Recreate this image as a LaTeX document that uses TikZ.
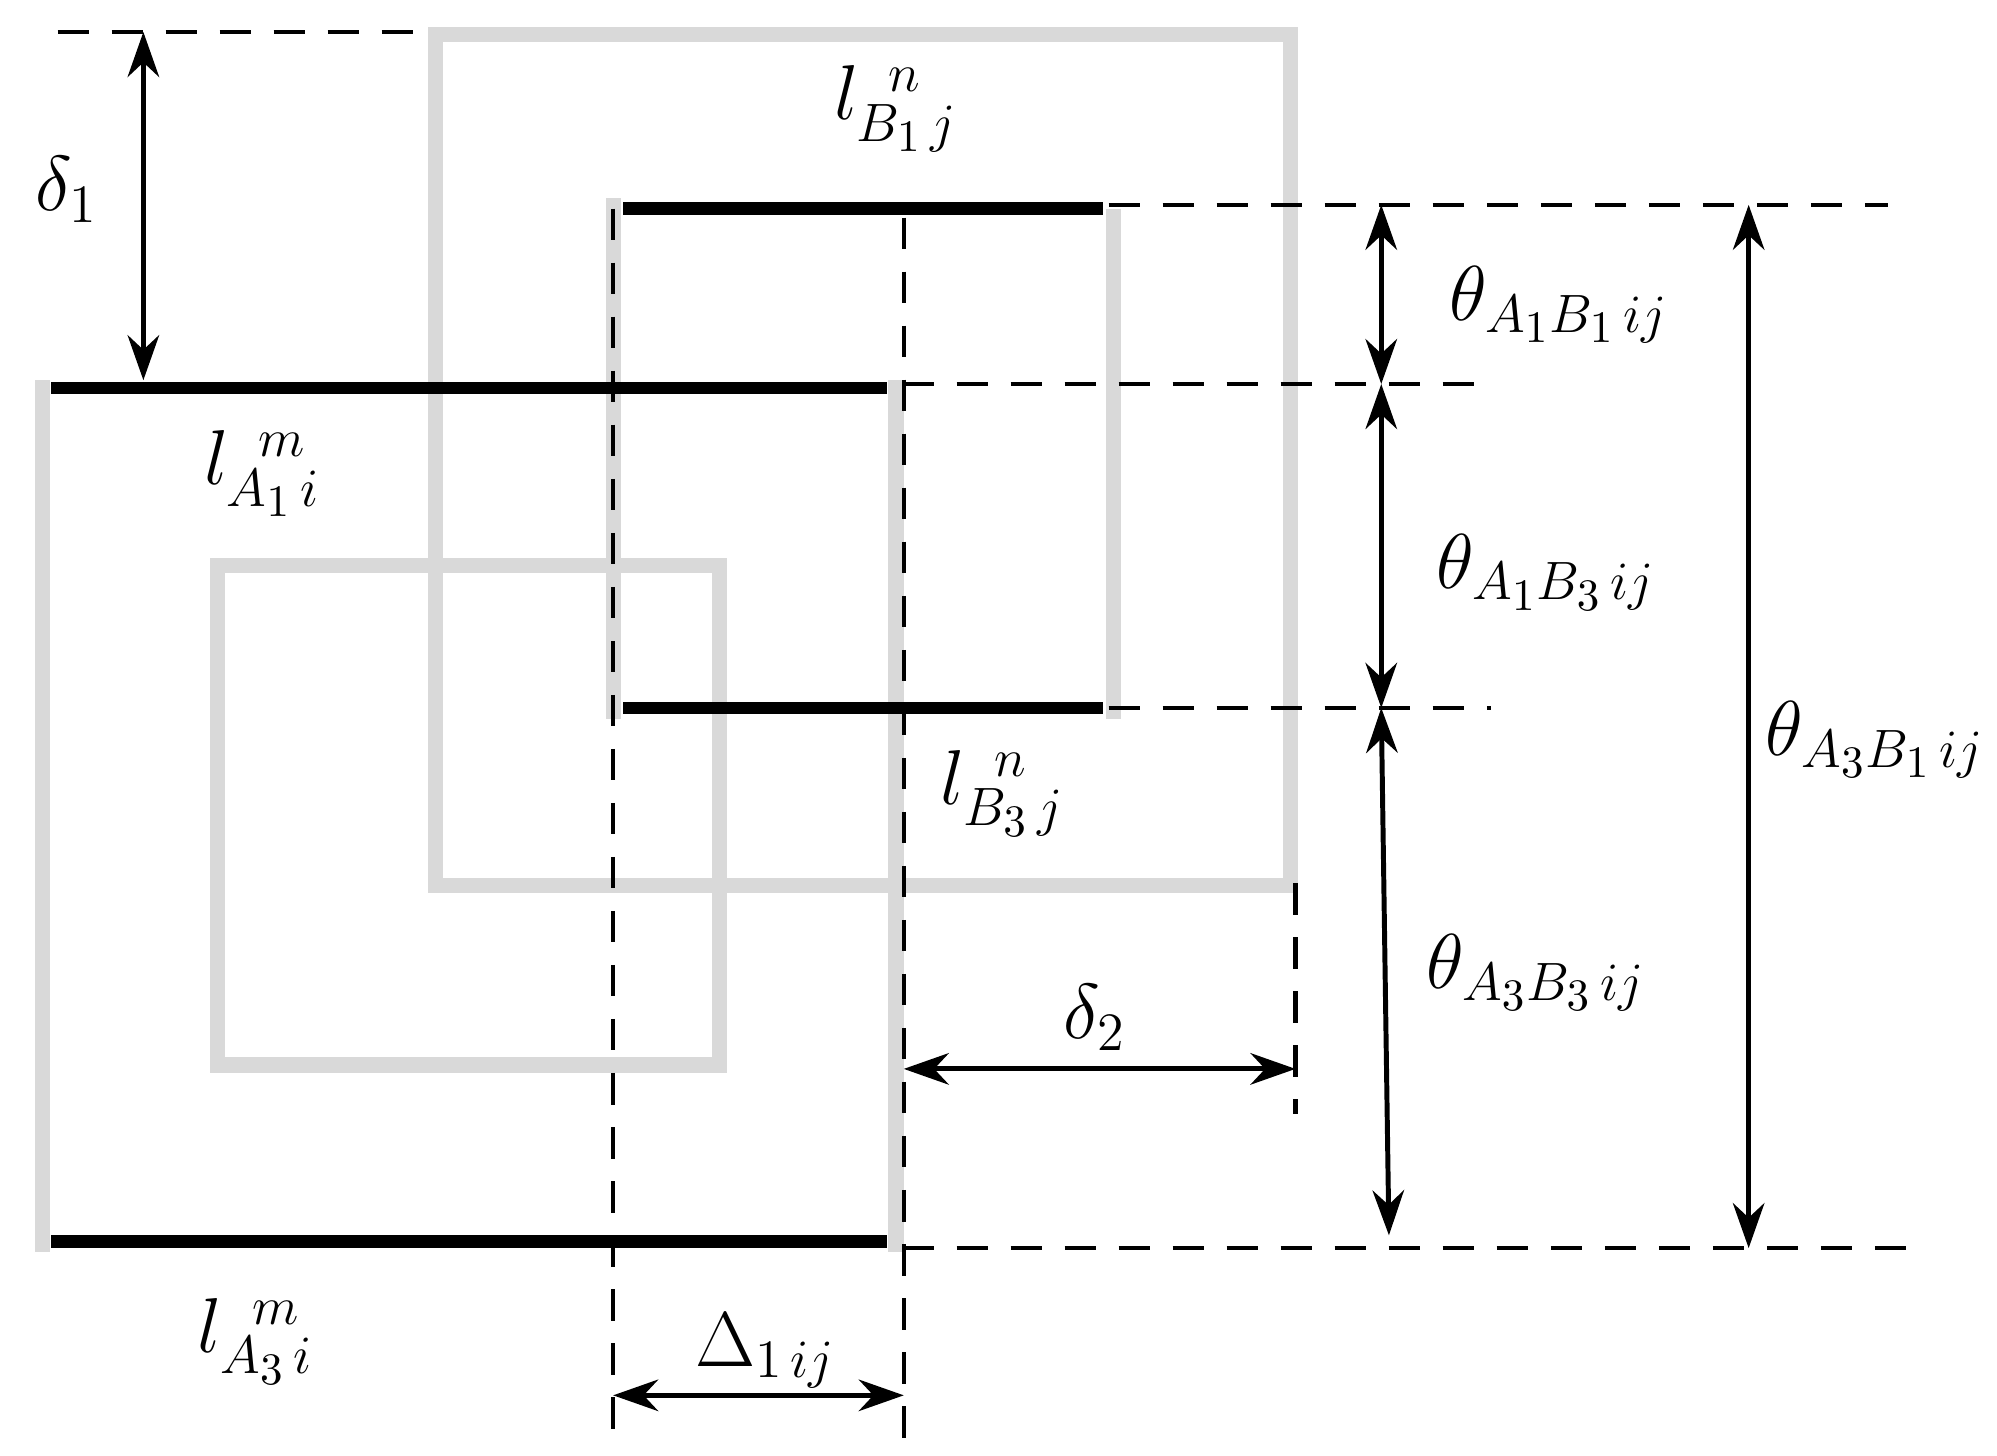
\documentclass[tikz,border=0pt]{standalone}
\usepackage{amsmath}
\usetikzlibrary{arrows.meta}
\begin{document}
\begin{tikzpicture}[x=0.01cm,y=-0.01cm,
  gr/.style={draw=black!15,line width=3.4pt},
  bk/.style={draw=black,line width=2.8pt},
  ds/.style={draw=black,line width=1pt,dash pattern=on 7pt off 5pt},
  ar/.style={draw=black,line width=1.1pt,{Stealth[length=10pt,width=7pt]}-{Stealth[length=10pt,width=7pt]}},
  lb/.style={font=\LARGE}]
\useasboundingbox (0,0) rectangle (1560,1137);
% gray squares
\draw[gr] (340,27) rectangle (1008,692);
\draw[gr] (170,442) rectangle (562,832);
\draw[gr] (33,297) -- (33,978);
\draw[gr] (700,297) -- (700,978);
\draw[gr] (479,155) -- (479,562);
\draw[gr] (870,163) -- (870,562);
% black lines
\draw[bk] (40,303) -- (693,303);
\draw[bk] (40,970) -- (693,970);
\draw[bk] (487,163) -- (862,163);
\draw[bk] (487,553) -- (862,553);
% dashed
\coordinate (d1a) at (45,25); \coordinate (d1b) at (340,25);
\draw[ds] (d1a) -- (d1b);
\draw[ds] (866,160) -- (1475,160);
\draw[ds] (705,300) -- (1165,300);
\draw[ds] (866,553) -- (1165,553);
\draw[ds] (705,975) -- (1495,975);
\draw[ds] (479,163) -- (479,1130);
\draw[ds] (706,170) -- (706,1125);
\draw[ds] (1012,690) -- (1012,870);
% arrows
\coordinate (a1) at (112,25); \coordinate (a2) at (112,297);
\draw[ar] (a1) -- (a2);
\draw[ar] (1079,160) -- (1079,300);
\draw[ar] (1079,300) -- (1079,553);
\draw[ar] (1079,553) -- (1085,965);
\draw[ar] (1366,160) -- (1366,975);
\draw[ar] (706,835) -- (1012,835);
\draw[ar] (479,1090) -- (706,1090);
% labels
\node[lb] (t1) at (52,148) {$\delta_1$};
\node[lb] (t2) at (205,370) {$l_{A_1\,i}^{\;\;m}$};
\node[lb] (t3) at (700,85) {$l_{B_1\,j}^{\;\;n}$};
\node[lb] (t4) at (1218,238) {$\theta_{A_1B_1\,ij}$};
\node[lb] (t5) at (1208,447) {$\theta_{A_1B_3\,ij}$};
\node[lb] (t6) at (1465,578) {$\theta_{A_3B_1\,ij}$};
\node[lb] (t7) at (1200,760) {$\theta_{A_3B_3\,ij}$};
\node[lb] (t8) at (783,620) {$l_{B_3\,j}^{\;\;n}$};
\node[lb] (t9) at (855,795) {$\delta_2$};
\node[lb] (t10) at (598,1055) {$\Delta_{1\,ij}$};
\node[lb] (t11) at (200,1048) {$l_{A_3\,i}^{\;\;m}$};
\end{tikzpicture}
\end{document}
